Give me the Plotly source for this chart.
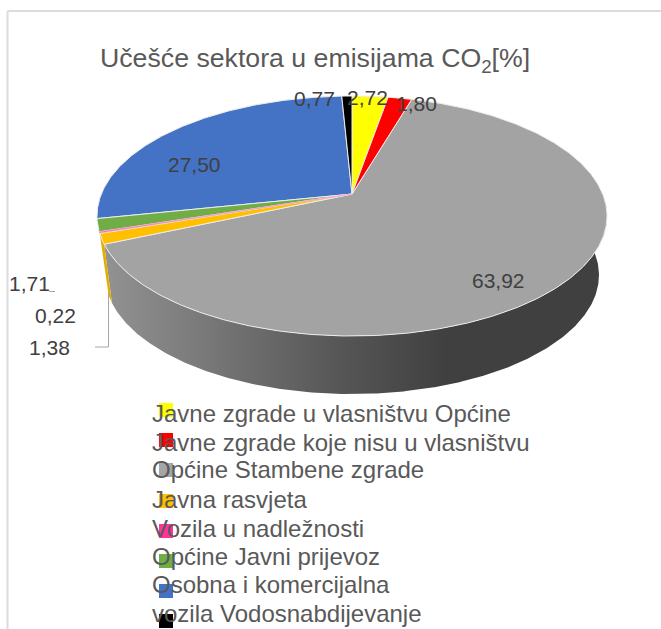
import numpy as np
import plotly.graph_objects as go

# ---- data ----
sector_values = [2.72, 1.80, 63.92, 1.38, 0.22, 1.71, 27.50, 0.77]
sector_colors = ["#FFFF00", "#FF0000", "#A3A3A3", "#FFC000", "#FF3399", "#70AD47", "#4472C4", "#000000"]
legend_lines = [
    "Javne zgrade u vlasništvu Općine",
    "Javne zgrade koje nisu u vlasništvu",
    "Općine Stambene zgrade",
    "Javna rasvjeta",
    "Vozila u nadležnosti",
    "Općine Javni prijevoz",
    "Osobna i komercijalna",
    "vozila Vodosnabdijevanje",
]
legend_swatches = ["#FFFF00", "#FF0000", "#A5A5A5", "#FFC000", "#FF3399", "#70AD47", "#4472C4", "#000000"]
chart_title = "Učešće sektora u emisijama CO<sub>2</sub>[%]"

# ---- layout constants (pixel space of the plot) ----
W, H = 661, 629
TOP = dict(cx=352, cy=216, a=255, b=120)
BOT = dict(cx=352, cy=275, a=247, b=119)
PERSP = 0.183  # shift of the apex in the tilted disc
label_xy = [(367, 97), (416, 103), (498, 280), (49, 347), (55, 315), (29, 283), (194, 164), (314, 98)]
legend_text_y = [413.5, 442.5, 469.5, 499.5, 528.5, 556.5, 584.5, 613.5]
legend_swatch_y = [410, 440, 470, 501, 531, 561, 591, 621]


def project(pct, e):
    """Map a share position (percent clockwise from 12 o'clock) on the tilted disc."""
    phi = np.asarray(pct) / 100 * 2 * np.pi
    u, v = np.sin(phi), np.cos(phi)
    den = 1 + PERSP * v
    uu = u * np.sqrt(1 - PERSP ** 2) / den
    vv = (v + PERSP) / den
    return e["cx"] + e["a"] * uu, e["cy"] - e["b"] * vv


def arc(p0, p1, e, n=None):
    n = n or max(4, int(abs(p1 - p0) * 6))
    return project(np.linspace(p0, p1, n), e)


edges = np.concatenate([[0], np.cumsum(sector_values)])
edges = edges / edges[-1] * 100
apex_x, apex_y = project(50.0, TOP)[0], TOP["cy"] - TOP["b"] * PERSP

fig = go.Figure()

# side wall: the big sector, from the right silhouette round to its far edge
wall_start = 25.0
tx, ty = arc(wall_start, edges[3], TOP, 300)
bx, by = arc(edges[3], wall_start, BOT, 300)
fig.add_trace(go.Scatter(
    x=np.concatenate([tx, bx]), y=np.concatenate([ty, by]), mode="lines",
    fill="toself", line=dict(width=0, color="rgba(0,0,0,0)"), hoverinfo="skip", showlegend=False,
    fillgradient=dict(type="horizontal", start=105, stop=607,
                      colorscale=[[0, "#929292"], [0.45, "#585858"], [0.68, "#404040"], [1, "#404040"]]),
))
# side wall: the small orange sector
tx, ty = arc(edges[3], edges[4], TOP, 12)
bx, by = arc(edges[4], edges[3], BOT, 12)
fig.add_trace(go.Scatter(
    x=np.concatenate([tx, bx]), y=np.concatenate([ty, by]), mode="lines", fill="toself",
    fillcolor="#E5AC00", line=dict(width=0), hoverinfo="skip", showlegend=False,
))

# top face: biggest sectors first so the thin ones stay visible
for i in np.argsort(sector_values)[::-1]:
    val = sector_values[i]
    ax, ay = arc(edges[i], edges[i + 1], TOP)
    thin = val < 0.5
    fig.add_trace(go.Scatter(
        x=np.concatenate([[apex_x], ax, [apex_x]]), y=np.concatenate([[apex_y], ay, [apex_y]]),
        mode="lines", fill="toself", fillcolor=sector_colors[i],
        line=dict(color="#F7A6CC" if thin else "#ECECEC", width=0.8 if thin else 1),
        name=legend_lines[i], showlegend=False,
        hovertemplate=f"{legend_lines[i]}: {val:.2f}<extra></extra>",
    ))

# leader lines
fig.add_shape(type="line", x0=108.5, y0=292, x1=108.5, y1=347, line=dict(color="#A6A6A6", width=1))
fig.add_shape(type="line", x0=108.5, y0=347, x1=95, y1=347, line=dict(color="#A6A6A6", width=1))
fig.add_shape(type="line", x0=49, y0=291.5, x1=55, y1=291.5, line=dict(color="#A6A6A6", width=1))

# chart frame
fig.add_shape(type="line", x0=7.5, y0=11, x1=W, y1=11, line=dict(color="#DCDCDC", width=2))
fig.add_shape(type="line", x0=7.5, y0=11, x1=7.5, y1=H, line=dict(color="#DCDCDC", width=2))

# legend swatches
fig.add_trace(go.Scatter(
    x=[166] * len(legend_swatches), y=legend_swatch_y, mode="markers",
    marker=dict(symbol="square", size=14, color=legend_swatches, line=dict(width=0)),
    hoverinfo="skip", showlegend=False,
))

FONT = "Liberation Sans, Arial, sans-serif"
annotations = [dict(x=315, y=60, text=chart_title, showarrow=False, xanchor="center", yanchor="middle",
                    font=dict(family=FONT, size=26.7, color="#595959"))]
for val, (lx, ly) in zip(sector_values, label_xy):
    annotations.append(dict(x=lx, y=ly, text=f"{val:.2f}".replace(".", ","), showarrow=False,
                            xanchor="center", yanchor="middle",
                            font=dict(family=FONT, size=21, color="#404040")))
for line, ly in zip(legend_lines, legend_text_y):
    annotations.append(dict(x=152, y=ly, text=line, showarrow=False, xanchor="left", yanchor="middle",
                            xshift=-2, font=dict(family=FONT, size=24, color="#595959")))

fig.update_layout(
    width=W, height=H, margin=dict(l=0, r=0, t=0, b=0),
    paper_bgcolor="white", plot_bgcolor="white", showlegend=False,
    xaxis=dict(range=[0, W], visible=False, fixedrange=True),
    yaxis=dict(range=[H, 0], visible=False, fixedrange=True),
    annotations=annotations,
)
fig.write_html("out.html", config={"displayModeBar": False},
               post_script="document.body.style.margin='0';document.body.style.overflow='hidden';")
